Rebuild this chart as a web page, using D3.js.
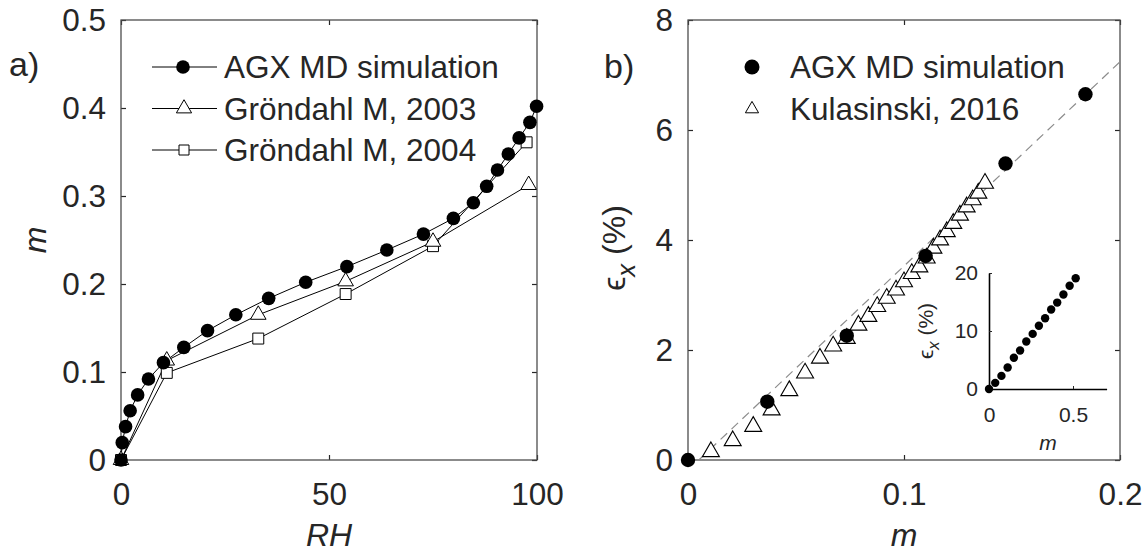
<!DOCTYPE html>
<html>
<head>
<meta charset="utf-8">
<script src="https://cdn.jsdelivr.net/npm/d3@7"></script>
<style>
  body { margin: 0; background: #fff; }
  svg { display: block; }
  text { font-family: "Liberation Sans", Arial, sans-serif; fill: #262626; }
  .tick line { stroke: #262626; }
  .box { fill: none; stroke: #4d4d4d; stroke-width: 1.3; }
</style>
</head>
<body>
<div id="chart"></div>
<script>
// ---- panel a: moisture content vs RH ----
var agxRH = [0, 0.3, 1.1, 2.2, 4.0, 6.6, 10.2, 15.1, 20.8, 27.6, 35.5, 44.4, 54.3, 63.9, 72.7, 79.9, 84.7, 87.9, 90.5, 93.1, 95.7, 98.3, 99.9];
var agxM  = [0, 0.0197, 0.0379, 0.056, 0.074, 0.092, 0.1106, 0.128, 0.147, 0.165, 0.1837, 0.202, 0.2197, 0.2386, 0.2567, 0.2746, 0.2924, 0.311, 0.3295, 0.3477, 0.366, 0.3837, 0.402];
var g2003RH = [0, 11, 33, 54, 75, 98];
var g2003M  = [0, 0.113, 0.165, 0.203, 0.248, 0.3125];
var g2004RH = [0, 11, 33, 54, 75, 97.5];
var g2004M  = [0, 0.099, 0.138, 0.1886, 0.243, 0.361];

// ---- panel b: swelling strain vs m ----
var agxStrainM   = [0, 0.0367, 0.0735, 0.110, 0.147, 0.184];
var agxStrainEps = [0, 1.06, 2.26, 3.71, 5.39, 6.65];
var kulM   = [0.0106, 0.0207, 0.0302, 0.0387, 0.0469, 0.0542, 0.0611, 0.0672, 0.0735, 0.0789, 0.0835, 0.0876, 0.092, 0.0963, 0.100, 0.1036, 0.1071, 0.1105, 0.1136, 0.1167, 0.1198, 0.1228, 0.1259, 0.129, 0.1318, 0.1344, 0.1375];
var kulEps = [0.15, 0.35, 0.61, 0.91, 1.26, 1.58, 1.85, 2.07, 2.21, 2.45, 2.61, 2.79, 2.94, 3.09, 3.24, 3.39, 3.51, 3.67, 3.85, 4.0, 4.15, 4.30, 4.45, 4.6, 4.73, 4.85, 5.03];
var fitM   = [0.005, 0.2];
var fitEps = [0, 7.24];

// ---- inset: full AGX series ----
var insetM   = [0, 0.037, 0.074, 0.111, 0.148, 0.185, 0.222, 0.26, 0.297, 0.334, 0.37, 0.406, 0.443, 0.48, 0.516];
var insetEps = [0, 1.06, 2.26, 3.71, 5.39, 6.65, 8.2, 9.5, 10.9, 12.2, 13.7, 14.9, 16.3, 17.8, 19.1];

// ticks
var aXTicks = [0, 50, 100];
var aYTicks = [0, 0.1, 0.2, 0.3, 0.4, 0.5];
var bXTicks = [0, 0.1, 0.2];
var bYTicks = [0, 2, 4, 6, 8];
var iXTicks = [0, 0.5];
var iYTicks = [0, 10, 20];

var legendA = ["AGX MD simulation", "Gröndahl M, 2003", "Gröndahl M, 2004"];
var legendB = ["AGX MD simulation", "Kulasinski, 2016"];

var width = 1147, height = 554;
var svg = d3.select("#chart").append("svg")
    .attr("width", width).attr("height", height);
svg.append("rect").attr("width", width).attr("height", height).attr("fill", "#fff");

var xA = d3.scaleLinear().domain([0, 100]).range([121, 537]);
var yA = d3.scaleLinear().domain([0, 0.5]).range([460, 20]);
var xB = d3.scaleLinear().domain([0, 0.2]).range([688, 1120]);
var yB = d3.scaleLinear().domain([0, 8]).range([460, 20]);
var xI = d3.scaleLinear().domain([0, 0.7]).range([989, 1106.6]);
var yI = d3.scaleLinear().domain([0, 20]).range([389, 273]);

var fmt = function(d) { return String(d); };

function boxAxes(x, y, xt, yt) {
  var x0 = x.range()[0], x1 = x.range()[1], y0 = y.range()[0], y1 = y.range()[1];
  var bottom = svg.append("g").attr("transform", "translate(0," + y0 + ")")
      .call(d3.axisBottom(x).tickValues(xt).tickFormat(fmt).tickSize(-5).tickPadding(23));
  var left = svg.append("g").attr("transform", "translate(" + x0 + ",0)")
      .call(d3.axisLeft(y).tickValues(yt).tickFormat(fmt).tickSize(-5).tickPadding(15));
  var top = svg.append("g").attr("transform", "translate(0," + y1 + ")")
      .call(d3.axisTop(x).tickValues(xt).tickFormat("").tickSize(-5));
  var right = svg.append("g").attr("transform", "translate(" + x1 + ",0)")
      .call(d3.axisRight(y).tickValues(yt).tickFormat("").tickSize(-5));
  [bottom, left, top, right].forEach(function(g) {
    g.select(".domain").remove();
    g.selectAll("text").attr("font-size", 31.5).attr("fill", "#262626")
      .attr("font-family", "Liberation Sans, Arial, sans-serif");
    g.selectAll(".tick line").attr("stroke", "#262626").attr("stroke-width", 1.2);
  });
  svg.append("rect").attr("class", "box")
    .attr("x", x0).attr("y", y1).attr("width", x1 - x0).attr("height", y0 - y1);
}

boxAxes(xA, yA, aXTicks, aYTicks);
boxAxes(xB, yB, bXTicks, bYTicks);

function zip(a, b) { return a.map(function(v, i) { return [v, b[i]]; }); }

// panel a lines and markers
var line = function(x, y) { return d3.line().x(function(d) { return x(d[0]); }).y(function(d) { return y(d[1]); }); };
var agxA = zip(agxRH, agxM), g03 = zip(g2003RH, g2003M), g04 = zip(g2004RH, g2004M);

[g04, g03, agxA].forEach(function(s) {
  svg.append("path").datum(s).attr("d", line(xA, yA))
    .attr("fill", "none").attr("stroke", "#000").attr("stroke-width", 1);
});

var tri = d3.symbol().type(d3.symbolTriangle);
var sq = d3.symbol().type(d3.symbolSquare);

svg.append("g").selectAll("path").data(g04).enter().append("path")
  .attr("d", sq.size(120)())
  .attr("transform", function(d) { return "translate(" + xA(d[0]) + "," + yA(d[1]) + ")"; })
  .attr("fill", "#fff").attr("stroke", "#000").attr("stroke-width", 1);
svg.append("g").selectAll("path").data(g03).enter().append("path")
  .attr("d", tri.size(105)())
  .attr("transform", function(d) { return "translate(" + xA(d[0]) + "," + yA(d[1]) + ")"; })
  .attr("fill", "#fff").attr("stroke", "#000").attr("stroke-width", 1);
svg.append("g").selectAll("circle").data(agxA).enter().append("circle")
  .attr("cx", function(d) { return xA(d[0]); }).attr("cy", function(d) { return yA(d[1]); })
  .attr("r", 6.8).attr("fill", "#000");

// legend a
var legA = svg.append("g");
legendA.forEach(function(t, i) {
  var yy = 67 + i * 41.5;
  legA.append("line").attr("x1", 152).attr("x2", 217).attr("y1", yy).attr("y2", yy)
    .attr("stroke", "#000").attr("stroke-width", 1);
  if (i === 0) legA.append("circle").attr("cx", 183).attr("cy", yy).attr("r", 6.8).attr("fill", "#000");
  if (i === 1) legA.append("path").attr("d", tri.size(100)()).attr("transform", "translate(184," + yy + ")")
    .attr("fill", "#fff").attr("stroke", "#000");
  if (i === 2) legA.append("path").attr("d", sq.size(100)()).attr("transform", "translate(184," + yy + ")")
    .attr("fill", "#fff").attr("stroke", "#000");
  legA.append("text").attr("x", 224).attr("y", yy + 11).attr("font-size", 31.5).attr("fill", "#000").text(t);
});

// panel b
svg.append("path").datum(zip(fitM, fitEps)).attr("d", line(xB, yB))
  .attr("fill", "none").attr("stroke", "#8c8c8c").attr("stroke-width", 1.2)
  .attr("stroke-dasharray", "9,6");
svg.append("g").selectAll("path").data(zip(kulM, kulEps)).enter().append("path")
  .attr("d", tri.size(125)())
  .attr("transform", function(d) { return "translate(" + xB(d[0]) + "," + yB(d[1]) + ")"; })
  .attr("fill", "#fff").attr("stroke", "#000").attr("stroke-width", 1.1);
svg.append("g").selectAll("circle").data(zip(agxStrainM, agxStrainEps)).enter().append("circle")
  .attr("cx", function(d) { return xB(d[0]); }).attr("cy", function(d) { return yB(d[1]); })
  .attr("r", 7.2).attr("fill", "#000");

var legB = svg.append("g");
legendB.forEach(function(t, i) {
  var yy = 67 + i * 42;
  if (i === 0) legB.append("circle").attr("cx", 752).attr("cy", yy).attr("r", 7.5).attr("fill", "#000");
  else legB.append("path").attr("d", tri.size(75)()).attr("transform", "translate(752," + yy + ")")
    .attr("fill", "#fff").attr("stroke", "#000");
  legB.append("text").attr("x", 790).attr("y", yy + 11).attr("font-size", 31.5).attr("fill", "#000").text(t);
});

// inset
var ix = svg.append("g").attr("transform", "translate(0," + yI(0) + ")")
  .call(d3.axisBottom(xI).tickValues(iXTicks).tickFormat(fmt).tickSize(-3).tickSizeOuter(0).tickPadding(18));
var iy = svg.append("g").attr("transform", "translate(" + xI(0) + ",0)")
  .call(d3.axisLeft(yI).tickValues(iYTicks).tickFormat(fmt).tickSize(-3).tickSizeOuter(0).tickPadding(11));
[ix, iy].forEach(function(g) {
  g.select(".domain").attr("stroke", "#000").attr("stroke-width", 1.6);
  g.selectAll("text").attr("font-size", 21).attr("fill", "#262626")
    .attr("font-family", "Liberation Sans, Arial, sans-serif");
  g.selectAll(".tick line").attr("stroke", "#000");
});
svg.append("g").selectAll("circle").data(zip(insetM, insetEps)).enter().append("circle")
  .attr("cx", function(d) { return xI(d[0]); }).attr("cy", function(d) { return yI(d[1]); })
  .attr("r", 4.2).attr("fill", "#000");

// axis labels
svg.append("text").attr("x", 329).attr("y", 546).attr("text-anchor", "middle")
  .attr("font-size", 32).attr("font-style", "italic").text("RH");
svg.append("text").attr("x", 904).attr("y", 546).attr("text-anchor", "middle")
  .attr("font-size", 32).attr("font-style", "italic").text("m");
svg.append("text").attr("transform", "translate(46,240) rotate(-90)").attr("text-anchor", "middle")
  .attr("font-size", 32).attr("font-style", "italic").text("m");

function epsLabel(x, y, size) {
  var t = svg.append("text").attr("transform", "translate(" + x + "," + y + ") rotate(-90)")
    .attr("text-anchor", "middle").attr("font-size", size);
  t.append("tspan").text("ϵ");
  t.append("tspan").attr("dy", size * 0.3).attr("font-size", size * 0.8).attr("font-style", "italic").text("x");
  t.append("tspan").attr("dy", -size * 0.3).text(" (%)");
}
epsLabel(625, 248, 32);
epsLabel(933, 331, 21);
svg.append("text").attr("x", 1048).attr("y", 450).attr("text-anchor", "middle")
  .attr("font-size", 21).attr("font-style", "italic").text("m");

// panel tags
svg.append("text").attr("x", 9).attr("y", 76).attr("font-size", 34)
  .attr("font-family", "Lato, sans-serif").attr("fill", "#000").text("a)");
svg.append("text").attr("x", 604).attr("y", 78).attr("font-size", 34)
  .attr("font-family", "Lato, sans-serif").attr("fill", "#000").text("b)");
</script>
</body>
</html>
